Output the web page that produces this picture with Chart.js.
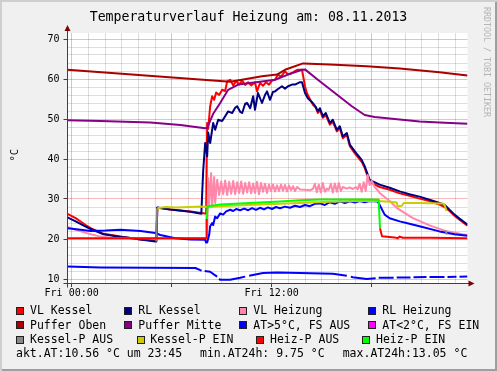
<!DOCTYPE html>
<html>
<head>
<meta charset="utf-8">
<script src="https://cdn.jsdelivr.net/npm/chart.js@4.4.0/dist/chart.umd.min.js"></script>
<style>
  body { margin: 0; background: #f0f0f0; }
  #frame { position: relative; width: 497px; height: 371px; background: #f0f0f0; overflow: hidden;
           box-shadow: inset 2px 2px 0 #cfcfcf, inset -2px -2px 0 #9e9e9e; font-family: "DejaVu Sans Mono", monospace; color: #000; }
  #chart { position: absolute; left: 0; top: 0; }
  .txt { position: absolute; white-space: pre; line-height: 1; }
  .box { position: absolute; width: 8px; height: 8px; box-sizing: border-box; border: 1px solid #202020; }
</style>
</head>
<body>
<div id="frame">
  <canvas id="chart" width="497" height="371"></canvas>
  <div class="txt" id="title" style="left:0;width:497px;text-align:center;top:9.5px;font-size:13.2px;">Temperaturverlauf Heizung am: 08.11.2013</div>
  <div class="txt" style="left:8px;top:150px;font-size:10.5px;transform:rotate(-90deg);transform-origin:center;">°C</div>
  <div class="txt" style="left:483px;top:7px;font-size:8.3px;color:#b4b4b4;writing-mode:vertical-rl;">RRDTOOL / TOBI OETIKER</div>
</div>
<script>
// [hour, °C] pairs (x axis: hours of the day)
const vlKessel = [[-0.25,26.3],[0.24,25.2],[0.84,23.5],[1.14,22.7],[1.91,21.3],[2.93,20.6],[3.53,20.2],[4.13,19.9],[5.02,19.6],[5.08,19.6],[5.14,27.8],[5.92,27.4],[7.12,26.9],[8.01,26.4],[8.07,26.4],[8.13,49.0],[8.19,47.5],[8.31,53.2],[8.43,55.7],[8.55,54.8],[8.67,56.6],[8.85,56.0],[9.03,57.3],[9.21,57.0],[9.33,59.4],[9.51,59.8],[9.69,58.4],[9.87,59.5],[10.05,58.6],[10.23,59.6],[10.41,58.5],[10.59,59.2],[10.77,58.4],[11.00,59.2],[11.12,56.9],[11.30,59.0],[11.48,58.3],[11.66,59.2],[11.84,58.6],[12.02,59.6],[12.20,59.8],[12.38,61.1],[12.56,60.6],[12.80,61.9],[12.98,61.2],[13.22,61.5],[13.40,62.0],[13.58,62.3],[13.82,62.3],[14.00,58.2],[14.11,56.5],[14.29,55.0],[14.47,53.6],[14.65,52.8],[14.77,51.5],[14.89,52.3],[15.07,50.3],[15.25,51.0],[15.49,48.6],[15.67,49.3],[15.91,46.9],[16.09,47.7],[16.27,45.2],[16.51,46.0],[16.69,43.2],[16.99,41.4],[17.40,39.3],[17.58,37.8],[17.88,34.3],[18.48,33.0],[19.08,32.3],[19.68,31.4],[20.27,30.8],[20.87,30.1],[21.47,29.5],[22.07,28.6],[22.37,28.0],[22.67,27.0],[22.97,25.8],[23.27,24.8],[23.75,23.3]];
const rlKessel = [[-0.25,25.4],[0.24,24.4],[0.84,23.1],[1.14,22.5],[1.91,21.2],[2.93,20.5],[3.35,20.4],[4.13,19.9],[5.02,19.4],[5.08,19.4],[5.14,27.9],[5.92,27.4],[7.12,26.8],[7.78,26.3],[7.89,37.0],[8.01,44.0],[8.13,40.7],[8.19,46.6],[8.31,44.0],[8.49,49.0],[8.61,47.3],[8.79,49.8],[9.03,49.5],[9.21,50.7],[9.39,51.9],[9.63,51.5],[9.81,52.8],[9.93,53.2],[10.11,51.8],[10.23,51.5],[10.41,53.8],[10.53,54.0],[10.71,52.7],[10.89,55.7],[11.00,52.3],[11.18,56.5],[11.42,54.0],[11.60,56.0],[11.72,56.9],[11.90,54.8],[12.08,56.8],[12.20,56.9],[12.38,57.5],[12.62,58.2],[12.80,57.6],[12.98,58.2],[13.22,58.6],[13.40,58.6],[13.70,59.2],[13.82,59.2],[14.00,56.5],[14.17,55.2],[14.47,54.0],[14.65,53.0],[14.77,51.9],[14.89,52.7],[15.07,50.7],[15.25,51.5],[15.49,49.0],[15.67,49.8],[15.91,47.3],[16.09,48.2],[16.27,45.6],[16.51,46.5],[16.69,43.6],[16.99,41.9],[17.16,41.0],[17.40,39.8],[17.58,38.2],[17.88,34.8],[18.48,33.6],[19.08,32.8],[19.68,31.9],[20.27,31.2],[20.87,30.6],[21.47,29.8],[22.07,29.0],[22.37,28.6],[22.67,27.3],[22.97,26.1],[23.27,25.1],[23.75,23.6]];
const vlHeizung = [[-0.25,23.0],[0.54,21.9],[1.14,21.2],[1.73,20.6],[2.33,20.3],[2.93,20.2],[8.07,20.2],[8.13,20.0],[8.19,35.3],[8.25,28.5],[8.37,36.5],[8.43,28.0],[8.55,35.5],[8.61,29.0],[8.73,34.8],[8.85,31.0],[8.97,34.4],[9.09,31.2],[9.21,34.6],[9.33,31.0],[9.45,34.3],[9.57,31.3],[9.69,34.5],[9.81,31.2],[9.93,34.2],[10.05,31.5],[10.17,34.4],[10.29,31.3],[10.41,34.0],[10.53,31.6],[10.65,34.2],[10.77,31.4],[10.89,33.9],[11.00,31.5],[11.12,34.3],[11.24,31.2],[11.36,34.0],[11.48,31.8],[11.60,33.8],[11.72,31.5],[11.84,33.6],[11.96,32.0],[12.08,33.6],[12.20,31.9],[12.32,33.4],[12.44,32.0],[12.56,33.6],[12.68,32.1],[12.80,33.5],[12.92,31.9],[13.04,33.4],[13.16,32.2],[13.28,33.2],[13.40,32.0],[13.52,33.0],[13.70,32.4],[14.00,32.3],[14.29,32.2],[14.47,32.5],[14.59,33.8],[14.71,31.7],[14.83,33.6],[14.95,31.6],[15.07,34.0],[15.19,31.8],[15.31,32.6],[15.43,32.3],[15.55,33.8],[15.67,31.6],[15.79,33.9],[15.91,31.8],[16.03,34.0],[16.15,32.0],[16.27,33.0],[16.51,32.6],[16.69,32.9],[16.87,32.5],[17.05,33.0],[17.16,32.4],[17.28,33.8],[17.40,31.8],[17.52,34.2],[17.64,32.0],[17.76,36.0],[17.88,33.5],[18.00,34.6],[18.18,33.0],[18.36,32.2],[18.48,31.5],[19.08,29.5],[19.50,27.8],[20.45,25.3],[21.47,23.4],[22.43,22.0],[23.44,21.2],[23.75,21.0]];
const rlHeizung = [[-0.25,22.7],[0.54,22.3],[1.14,22.0],[2.03,22.1],[2.93,22.3],[4.13,22.0],[5.02,21.5],[5.32,21.0],[6.22,20.2],[7.12,19.9],[8.01,19.8],[8.07,19.1],[8.13,19.1],[8.25,21.0],[8.31,23.2],[8.43,24.0],[8.49,23.5],[8.61,25.6],[8.73,25.2],[8.91,26.4],[9.09,26.1],[9.27,26.9],[9.51,27.3],[9.69,27.0],[9.87,27.5],[10.11,27.2],[10.35,27.6],[10.59,27.2],[10.83,27.7],[11.06,27.3],[11.30,27.8],[11.54,27.4],[11.78,27.9],[12.02,27.5],[12.26,28.0],[12.50,27.7],[12.80,28.1],[13.10,27.8],[13.40,28.3],[13.70,28.0],[14.00,28.5],[14.29,28.2],[14.59,28.8],[14.89,28.9],[15.19,28.5],[15.49,29.2],[15.79,28.8],[16.09,29.4],[16.39,29.0],[16.69,29.4],[16.99,29.1],[17.28,29.5],[17.58,29.2],[17.88,29.5],[18.36,29.4],[18.48,28.5],[18.78,26.1],[19.08,25.2],[19.68,24.4],[20.27,23.8],[20.87,23.2],[22.07,21.9],[22.97,21.2],[23.75,20.8]];
const pufferOben = [[-0.25,62.3],[9.51,59.3],[10.47,60.0],[11.42,60.7],[12.32,61.1],[12.80,62.3],[13.88,63.9],[15.49,63.6],[17.70,63.2],[19.68,62.6],[22.07,61.7],[23.75,60.9]];
const pufferMitte = [[-0.25,49.7],[1.73,49.5],[4.72,49.1],[6.52,48.5],[8.01,47.7],[8.13,47.8],[8.49,51.3],[8.91,54.0],[9.39,57.3],[9.99,58.6],[11.42,59.4],[12.20,59.8],[12.98,61.1],[13.82,62.3],[14.00,62.4],[14.77,59.8],[15.79,56.5],[16.81,53.2],[17.58,51.0],[18.18,50.5],[19.08,50.1],[20.87,49.4],[22.07,49.1],[23.75,48.8]];
const atAbove5 = [[-0.25,13.1],[1.73,12.9],[4.72,12.8],[7.42,12.75],[7.72,12.2],[7.80,12.15],[7.89,null],[7.98,12.0],[8.31,11.8],[8.55,11.1],[8.73,10.6],[8.79,null],[8.85,10.1],[8.91,9.8],[9.51,9.8],[10.11,10.3],[10.41,10.6],[10.53,null],[10.65,10.8],[11.48,11.5],[12.32,11.6],[13.70,11.5],[15.67,11.3],[16.51,10.8],[16.63,null],[16.75,10.6],[16.87,10.45],[17.70,10.0],[18.24,10.2],[18.30,null],[18.42,10.3],[19.32,10.3],[19.38,null],[19.50,10.35],[20.33,10.4],[20.39,null],[20.51,10.45],[21.29,10.5],[21.35,null],[21.47,10.5],[22.37,10.5],[22.43,null],[22.55,10.5],[23.09,10.55],[23.15,null],[23.27,10.55],[23.75,10.6]];
const atBelow2 = [];
const kesselPAus = [[5.08,19.4],[5.12,27.7],[13.0,null],[22.43,22.2],[22.52,21.1]];
const kesselPEin = [[5.14,27.7],[5.62,28.0],[6.22,27.9],[7.12,28.0],[7.72,28.1],[8.13,28.0],[9.51,28.3],[11.30,28.6],[13.70,29.0],[15.49,29.3],[17.28,29.5],[18.36,29.5],[19.08,29.3],[19.50,29.1],[19.56,28.2],[19.80,28.3],[19.92,29.0],[20.87,29.0],[22.25,28.9],[22.37,28.6],[22.49,27.0]];
const heizPAus = [[-0.25,20.2],[8.07,20.2],[8.10,25.0],[13.0,null],[18.50,22.7],[18.62,20.7],[19.38,20.4],[19.56,20.2],[19.68,20.6],[19.86,20.3],[21.47,20.3],[23.75,20.2]];
const heizPEin = [[8.10,25.0],[8.16,28.2],[8.91,28.6],[10.11,28.9],[11.30,29.1],[12.50,29.4],[13.70,29.7],[14.89,29.9],[16.69,29.9],[17.88,29.9],[18.42,29.8],[18.50,22.7]];

const legendLabels = ['VL Kessel','RL Kessel','VL Heizung','RL Heizung','Puffer Oben','Puffer Mitte','AT>5°C, FS AUS','AT<2°C, FS EIN','Kessel-P AUS','Kessel-P EIN','Heiz-P AUS','Heiz-P EIN'];
const legendColors = ['#ff0000','#000080','#ff88aa','#0000ff','#aa0000','#880088','#0000ff','#ff00ff','#888888','#cccc00','#ff0000','#00ff00'];
const seriesData = [vlKessel, rlKessel, vlHeizung, rlHeizung, pufferOben, pufferMitte, atAbove5, atBelow2, kesselPAus, kesselPEin, heizPAus, heizPEin];

const xTickHours = [0,1,2,3,4,5,6,7,8,9,10,11,12,13,14,15,16,17,18,19,20,21,22,23];
const xTickLabels = {0: 'Fri 00:00', 12: 'Fri 12:00'};
const yTickValues = [10,12,14,16,18,20,22,24,26,28,30,32,34,36,38,40,42,44,46,48,50,52,54,56,58,60,62,64,66,68,70];
const footer = ['akt.AT:10.56 °C um 23:45', 'min.AT24h: 9.75 °C', 'max.AT24h:13.05 °C'];

const minorGrid = 'rgba(143,143,143,0.3)';
const majorGrid = 'rgba(229,0,0,0.28)';

// legend + footer as html text
const frame = document.getElementById('frame');
const rowBase = [315, 329.3, 343.6];
const boxX = [[16,124,239.3,368.3],[16,124,239.3,368.3],[16,136.7,256,362.3]];
const textX = [[30,138.3,253.3,382.3],[30,138.3,253.3,382.3],[30,150.3,270,376]];
const fs = 11.5;
function addText(str, x, base) {
  const d = document.createElement('div');
  d.className = 'txt';
  d.style.fontSize = fs + 'px';
  d.style.left = x + 'px';
  d.style.top = (base - 0.846 * fs) + 'px';
  d.textContent = str;
  frame.appendChild(d);
}
for (let r = 0; r < 3; r++) {
  for (let c = 0; c < 4; c++) {
    const i = r * 4 + c;
    const b = document.createElement('div');
    b.className = 'box';
    b.style.left = boxX[r][c] + 'px';
    b.style.top = (rowBase[r] - 8) + 'px';
    b.style.background = legendColors[i];
    frame.appendChild(b);
    addText(legendLabels[i], textX[r][c], rowBase[r]);
  }
}
addText(footer[0], 16, 357.9);
addText(footer[1], 200, 357.9);
addText(footer[2], 342.7, 357.9);

const plotBg = {
  id: 'plotBg',
  beforeDraw(chart) {
    const {ctx, chartArea: a} = chart;
    ctx.save();
    ctx.fillStyle = '#ffffff';
    ctx.fillRect(a.left, a.top, a.right - a.left, a.bottom - a.top);
    ctx.restore();
  }
};

const axisArrows = {
  id: 'axisArrows',
  afterDraw(chart) {
    const {ctx, chartArea: a} = chart;
    const x0 = Math.floor(a.left) + 0.5, y0 = Math.floor(a.bottom) + 0.5;
    ctx.save();
    ctx.strokeStyle = '#404040';
    ctx.lineWidth = 1;
    ctx.beginPath();
    ctx.moveTo(x0 - 4, y0); ctx.lineTo(a.right + 3, y0);
    ctx.moveTo(x0, y0 + 4); ctx.lineTo(x0, a.top - 3);
    ctx.stroke();
    ctx.fillStyle = '#7f0000';
    ctx.beginPath();
    ctx.moveTo(x0, a.top - 8); ctx.lineTo(x0 - 3, a.top - 2); ctx.lineTo(x0 + 3, a.top - 2); ctx.closePath();
    ctx.moveTo(a.right + 7, y0); ctx.lineTo(a.right + 1, y0 - 3); ctx.lineTo(a.right + 1, y0 + 3); ctx.closePath();
    ctx.fill();
    ctx.restore();
  }
};

const ctx = document.getElementById('chart').getContext('2d');
const n = seriesData.length;

new Chart(ctx, {
  type: 'line',
  data: {
    datasets: seriesData.map((d, i) => ({
      label: legendLabels[i],
      data: d.map(p => ({x: p[0], y: p[1]})),
      borderColor: legendColors[i],
      backgroundColor: legendColors[i],
      borderWidth: 2,
      borderJoinStyle: 'round',
      pointRadius: 0,
      tension: 0,
      spanGaps: false,
      order: n - i
    }))
  },
  options: {
    responsive: false,
    animation: false,
    devicePixelRatio: 1,
    layout: {padding: {left: 0, top: 33, right: 29.5, bottom: 0}},
    plugins: {legend: {display: false}, title: {display: false}, tooltip: {enabled: false}},
    scales: {
      x: {
        type: 'linear',
        min: -0.25,
        max: 23.75,
        afterBuildTicks: s => { s.ticks = xTickHours.map(v => ({value: v})); },
        afterFit: s => { s.height = 88; },
        ticks: {
          autoSkip: false, maxRotation: 0, padding: 0, color: '#000',
          font: {family: 'DejaVu Sans Mono', size: 10},
          callback: v => xTickLabels[v] || ''
        },
        grid: {
          color: c => (c.tick && c.tick.value % 6 === 0) ? majorGrid : minorGrid,
          tickColor: c => (c.tick && c.tick.value % 6 === 0) ? '#404040' : 'rgba(0,0,0,0)',
          tickLength: 4,
          lineWidth: 1
        },
        border: {display: false}
      },
      y: {
        min: 9,
        max: 71.5,
        afterBuildTicks: s => { s.ticks = yTickValues.map(v => ({value: v})); },
        afterFit: s => { s.width = 67.5; },
        ticks: {
          autoSkip: false, padding: 4, color: '#000',
          font: {family: 'DejaVu Sans Mono', size: 10},
          callback: v => (v % 10 === 0 ? String(v) : '')
        },
        grid: {
          color: c => (c.tick && c.tick.value % 10 === 0) ? majorGrid : minorGrid,
          tickColor: c => (c.tick && c.tick.value % 10 === 0) ? '#404040' : 'rgba(0,0,0,0)',
          tickLength: 4,
          lineWidth: 1
        },
        border: {display: false}
      }
    }
  },
  plugins: [plotBg, axisArrows]
});
</script>
</body>
</html>
